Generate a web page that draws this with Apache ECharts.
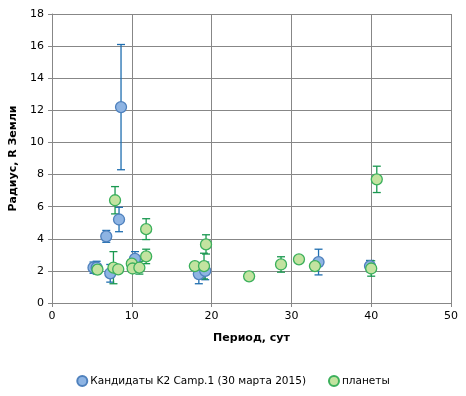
<!DOCTYPE html>
<html>
<head>
<meta charset="utf-8">
<script src="https://cdn.jsdelivr.net/npm/echarts@6/dist/echarts.min.js"></script>
<style>
  html, body { margin: 0; padding: 0; background: #fff; }
  #chart { width: 466px; height: 396px; }
</style>
</head>
<body>
<div id="chart"></div>
<script>
// Кандидаты K2 Camp.1
const candX = [5.2, 5.6, 6.8, 7.3, 8.4, 8.65, 10.4, 18.4, 19.2, 33.4, 39.85]
const candY = [2.2, 2.2, 4.15, 1.85, 5.2, 12.2, 2.75, 1.8, 2.0, 2.55, 2.3]
const candErr = [0.35, 0.4, 0.37, 0.55, 0.76, 3.9, 0.45, 0.6, 0.55, 0.8, 0.35]

// планеты
const planetX = [5.7, 7.7, 7.9, 8.3, 10.0, 10.1, 10.95, 11.8, 11.8, 17.9, 19.05, 19.3, 24.7, 28.7, 30.95, 32.95, 40.0, 40.7]
const planetY = [2.08, 2.2, 6.4, 2.1, 2.45, 2.15, 2.2, 2.9, 4.6, 2.3, 2.3, 3.65, 1.66, 2.4, 2.72, 2.3, 2.15, 7.7]
const planetErr = [0.15, 1.0, 0.85, 0.15, 0.15, 0.15, 0.4, 0.45, 0.65, 0.15, 0.8, 0.6, 0.1, 0.48, 0.2, 0.15, 0.48, 0.82]

const candName = 'Кандидаты K2 Camp.1 (30 марта 2015)'
const planetName = 'планеты'

const chart = echarts.init(document.getElementById('chart'))

function errorSeries(xs, ys, errs, color) {
  return {
    type: 'custom',
    silent: true,
    data: xs.map((x, i) => [x, ys[i] - errs[i], ys[i] + errs[i]]),
    renderItem(params, api) {
      const lo = api.coord([api.value(0), api.value(1)])
      const hi = api.coord([api.value(0), api.value(2)])
      const cap = 4
      const style = { stroke: color, lineWidth: 1.3 }
      return {
        type: 'group',
        children: [
          { type: 'line', shape: { x1: lo[0], y1: lo[1], x2: hi[0], y2: hi[1] }, style },
          { type: 'line', shape: { x1: lo[0] - cap, y1: lo[1], x2: lo[0] + cap, y2: lo[1] }, style },
          { type: 'line', shape: { x1: hi[0] - cap, y1: hi[1], x2: hi[0] + cap, y2: hi[1] }, style }
        ]
      }
    }
  }
}

const gridLine = { show: true, lineStyle: { color: '#878787', width: 1 } }
const fontFamily = 'DejaVu Sans, Verdana, sans-serif'

chart.setOption({
  animation: false,
  textStyle: { fontFamily },
  grid: { left: 52, right: 15, top: 14, bottom: 93, containLabel: false },
  legend: {
    top: 370,
    left: 'center',
    icon: 'circle',
    itemWidth: 10,
    itemHeight: 10,
    itemGap: 22,
    textStyle: { fontSize: 10.5, color: '#000', fontFamily, padding: [0, 0, 0, -2] },
    data: [candName, planetName]
  },
  xAxis: {
    type: 'value',
    min: 0,
    max: 50,
    interval: 10,
    name: 'Период, сут',
    nameLocation: 'middle',
    nameGap: 30,
    nameTextStyle: { fontWeight: 'bold', fontSize: 11, color: '#000' },
    axisLine: { show: true, onZero: false, lineStyle: { color: '#878787' } },
    axisTick: { show: true, length: 4, lineStyle: { color: '#878787' } },
    axisLabel: { color: '#000', fontSize: 11, margin: 8 },
    splitLine: gridLine
  },
  yAxis: {
    type: 'value',
    min: 0,
    max: 18,
    interval: 2,
    name: 'Радиус, R Земли',
    nameLocation: 'middle',
    nameGap: 26,
    nameTextStyle: { fontWeight: 'bold', fontSize: 11, color: '#000' },
    axisLine: { show: true, lineStyle: { color: '#878787' } },
    axisTick: { show: true, length: 4, lineStyle: { color: '#878787' } },
    axisLabel: { color: '#000', fontSize: 11, margin: 8 },
    splitLine: gridLine
  },
  series: [
    errorSeries(candX, candY, candErr, '#1f6eb0'),
    {
      name: candName,
      type: 'scatter',
      symbol: 'circle',
      symbolSize: 11,
      itemStyle: { color: '#8eb4e3', borderColor: '#4f81bd', borderWidth: 1.3, opacity: 1 },
      data: candX.map((x, i) => [x, candY[i]])
    },
    errorSeries(planetX, planetY, planetErr, '#1a9850'),
    {
      name: planetName,
      type: 'scatter',
      symbol: 'circle',
      symbolSize: 11,
      itemStyle: { color: '#c3e3a0', borderColor: '#3cb05c', borderWidth: 1.3, opacity: 1 },
      data: planetX.map((x, i) => [x, planetY[i]])
    }
  ]
})
</script>
</body>
</html>
